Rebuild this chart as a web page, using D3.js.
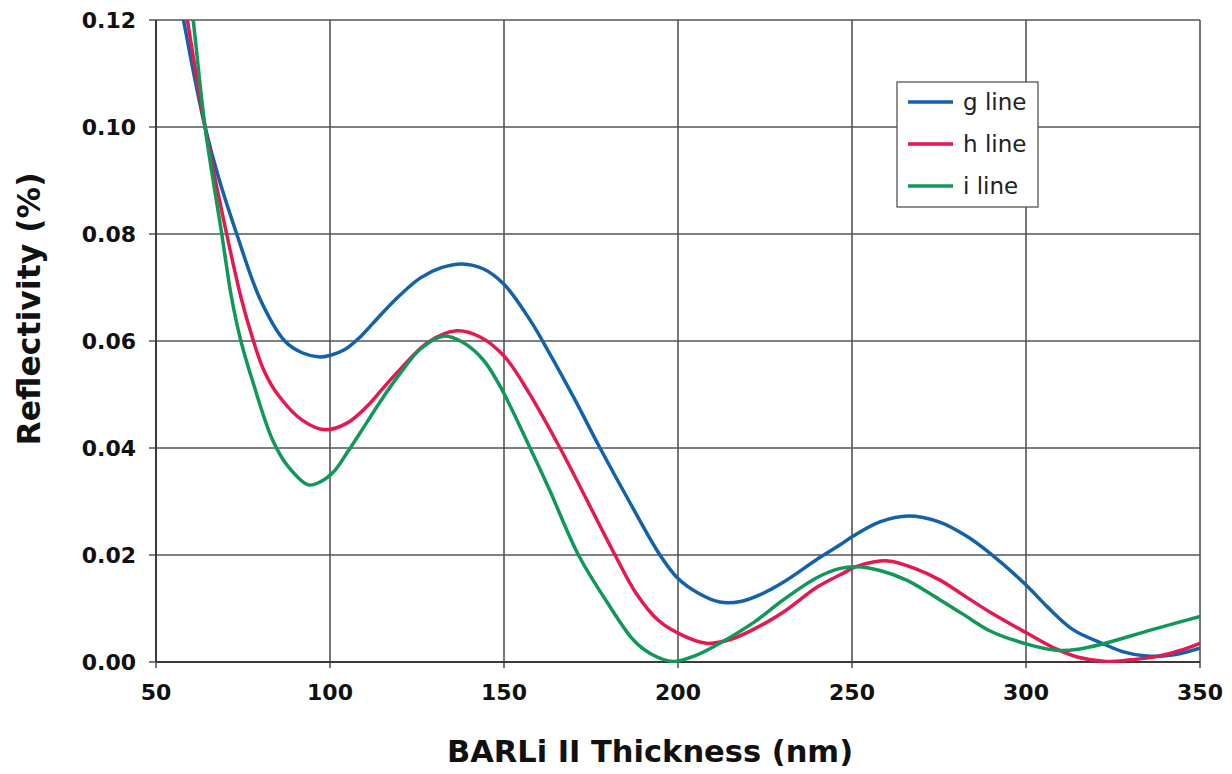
<!DOCTYPE html>
<html>
<head>
<meta charset="utf-8">
<script src="https://cdn.jsdelivr.net/npm/d3@7"></script>
<style>
	body { margin: 0; background: #fff; }
	svg { display: block; }
</style>
</head>
<body>
<div class="graph-box"></div>
<script>
// data (thickness in nm, reflectivity)
var gThickness = [50,55,57.9,61,64.1,68,73.2,80,87,92,97,100,104,108.6,114,120,126,132,138,144,150,157.5,163,170,177.6,186,194.8,200,206,212,218,224,230,240,246.6,250,258,266.2,275,283,289.7,300,306,313.6,322.2,328,334.7,342,350];
var gRefl = [0.148,0.1295,0.12,0.1095,0.10,0.0905,0.08,0.0677,0.06,0.0578,0.057,0.0573,0.0583,0.0607,0.0645,0.0685,0.0718,0.0737,0.0744,0.0735,0.0706,0.0639,0.0578,0.0495,0.040,0.030,0.020,0.0156,0.0128,0.0112,0.0113,0.0127,0.0148,0.0192,0.0219,0.0234,0.0262,0.0273,0.0262,0.0235,0.0203,0.0144,0.0104,0.006,0.0034,0.0019,0.0011,0.0013,0.0026];

var hThickness = [50,55,59,64.1,70.3,74.6,78,81,85,92,98.6,105,110.5,115,120,128,136.4,143,150,157,166.1,181.9,188,194,200,208.2,215,222,230,240,246.6,252,260.4,268,275.3,282,289.7,300,308.8,315,323.1,330,337.5,344,350];
var hRefl = [0.158,0.136,0.12,0.10,0.08,0.0677,0.06,0.0545,0.050,0.0452,0.0434,0.0447,0.0477,0.051,0.0546,0.0597,0.0619,0.0608,0.0572,0.0505,0.040,0.020,0.0128,0.0080,0.0054,0.0035,0.0042,0.0062,0.0092,0.0140,0.0163,0.0180,0.0189,0.0175,0.0153,0.0125,0.0093,0.0055,0.0024,0.0009,0.0001,0.0004,0.0010,0.0021,0.0035];

var iThickness = [50,55,60.7,64.1,68.9,71.6,74.4,78,83.5,88,93.8,97,101,105,110.5,115,120,126,132.6,138,144,148.9,157.5,163,171.4,180,187.2,192,198.6,205,212,222,230,240,246.6,251.3,258,265.7,275.3,282,289.7,300,308.8,315,322.2,336,350];
var iRefl = [0.185,0.153,0.12,0.10,0.08,0.0685,0.06,0.052,0.0415,0.0365,0.0331,0.0336,0.0355,0.0392,0.0447,0.0492,0.0538,0.0585,0.0609,0.0598,0.0565,0.0515,0.040,0.0323,0.020,0.0108,0.0041,0.0016,0.0001,0.0012,0.0035,0.0075,0.0115,0.0158,0.0175,0.0178,0.0171,0.0153,0.0116,0.0089,0.0058,0.0034,0.0022,0.0024,0.0034,0.006,0.0085];

var seriesNames = ["g line", "h line", "i line"];
var seriesColors = ["#1262ab", "#e3194f", "#119858"];
var xTicks = [50, 100, 150, 200, 250, 300, 350];
var yTicks = [0, 0.02, 0.04, 0.06, 0.08, 0.10, 0.12];

var width = 1232, height = 774;
// plot box (don't call these top/left, window.top is read only)
var plotL = 156, plotR = 1200, plotT = 20, plotB = 662;

var svg = d3.select(".graph-box")
		.append("svg")
		.attr("width", width)
		.attr("height", height);

var x = d3.scaleLinear().domain([50, 350]).range([plotL, plotR]);
var y = d3.scaleLinear().domain([0, 0.12]).range([plotB, plotT]);

// grid lines
svg.append("g")
		.selectAll("line")
		.data(xTicks)
		.enter()
		.append("line")
		.attr("x1", function(d) { return x(d); })
		.attr("x2", function(d) { return x(d); })
		.attr("y1", plotT)
		.attr("y2", plotB + 6)
		.attr("stroke", "#555")
		.attr("stroke-width", 1.6);

svg.append("g")
		.selectAll("line")
		.data(yTicks)
		.enter()
		.append("line")
		.attr("x1", plotL - 7)
		.attr("x2", plotR)
		.attr("y1", function(d) { return y(d); })
		.attr("y2", function(d) { return y(d); })
		.attr("stroke", "#555")
		.attr("stroke-width", 1.6);

// axis lines
svg.append("line")
		.attr("x1", plotL).attr("x2", plotL)
		.attr("y1", plotT).attr("y2", plotB)
		.attr("stroke", "#3a3a3a").attr("stroke-width", 2);
svg.append("line")
		.attr("x1", plotL).attr("x2", plotR)
		.attr("y1", plotB).attr("y2", plotB)
		.attr("stroke", "#3a3a3a").attr("stroke-width", 2);

// tick labels
svg.append("g")
		.selectAll("text")
		.data(yTicks)
		.enter()
		.append("text")
		.attr("x", 136)
		.attr("y", function(d) { return y(d) + 8; })
		.attr("text-anchor", "end")
		.attr("font-family", "DejaVu Sans")
		.attr("font-weight", "bold")
		.attr("font-size", 22)
		.attr("fill", "#111")
		.text(function(d) { return d3.format(".2f")(d); });

svg.append("g")
		.selectAll("text")
		.data(xTicks)
		.enter()
		.append("text")
		.attr("x", function(d) { return x(d); })
		.attr("y", 700)
		.attr("text-anchor", "middle")
		.attr("font-family", "DejaVu Sans")
		.attr("font-weight", "bold")
		.attr("font-size", 22)
		.attr("fill", "#111")
		.text(function(d) { return d; });

// axis titles
svg.append("text")
		.attr("x", 650)
		.attr("y", 762)
		.attr("text-anchor", "middle")
		.attr("font-family", "DejaVu Sans")
		.attr("font-weight", "bold")
		.attr("font-size", 30.5)
		.attr("fill", "#111")
		.text("BARLi II Thickness (nm)");

svg.append("text")
		.attr("transform", "translate(40,309) rotate(-90)")
		.attr("text-anchor", "middle")
		.attr("font-family", "DejaVu Sans")
		.attr("font-weight", "bold")
		.attr("font-size", 31.5)
		.attr("fill", "#111")
		.text("Reflectivity (%)");

// curves, clipped to the plot
svg.append("clipPath")
		.attr("id", "plot-clip")
		.append("rect")
		.attr("x", plotL)
		.attr("y", plotT)
		.attr("width", plotR - plotL)
		.attr("height", plotB - plotT + 1);

var allSeries = [
	d3.zip(gThickness, gRefl),
	d3.zip(hThickness, hRefl),
	d3.zip(iThickness, iRefl)
];

var line = d3.line()
		.x(function(d) { return x(d[0]); })
		.y(function(d) { return y(d[1]); })
		.curve(d3.curveCatmullRom.alpha(0.5));

svg.append("g")
		.attr("clip-path", "url(#plot-clip)")
		.selectAll("path")
		.data(allSeries)
		.enter()
		.append("path")
		.attr("d", line)
		.attr("fill", "none")
		.attr("stroke", function(d, i) { return seriesColors[i]; })
		.attr("stroke-width", 3.5);

// legend
var legend = svg.append("g").attr("transform", "translate(897,82)");
legend.append("rect")
		.attr("width", 141)
		.attr("height", 125)
		.attr("fill", "#fff")
		.attr("stroke", "#555")
		.attr("stroke-width", 1.3);

var rows = legend.selectAll(".row")
		.data(seriesNames)
		.enter()
		.append("g")
		.attr("class", "row")
		.attr("transform", function(d, i) { return "translate(0," + (20 + i * 42) + ")"; });

rows.append("line")
		.attr("x1", 11).attr("x2", 56)
		.attr("y1", 0).attr("y2", 0)
		.attr("stroke", function(d, i) { return seriesColors[i]; })
		.attr("stroke-width", 3.5);

rows.append("text")
		.attr("x", 66)
		.attr("y", 8)
		.attr("font-family", "DejaVu Sans")
		.attr("font-size", 23)
		.attr("fill", "#222")
		.text(function(d) { return d; });
</script>
</body>
</html>
